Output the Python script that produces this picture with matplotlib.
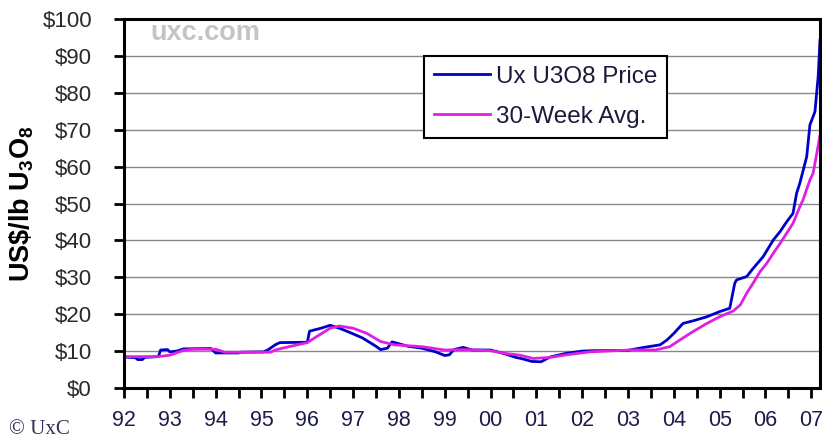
import matplotlib
matplotlib.use("Agg")
from matplotlib import pyplot as plt
from matplotlib.ticker import MultipleLocator
import numpy as np

# Ux U3O8 spot price (decimal year, US$/lb)
price_t = [1992.00, 1992.25, 1992.30, 1992.40, 1992.45, 1992.75, 1992.80, 1992.95,
           1993.00, 1993.15, 1993.30, 1993.90, 1994.00, 1994.50, 1994.55, 1995.05,
           1995.15, 1995.30, 1995.40, 1996.00, 1996.05, 1996.30, 1996.50, 1996.70,
           1996.90, 1997.20, 1997.50, 1997.60, 1997.75, 1997.85, 1998.00, 1998.20,
           1998.50, 1998.80, 1999.00, 1999.10, 1999.20, 1999.40, 1999.60, 2000.00,
           2000.30, 2000.55, 2000.70, 2000.90, 2001.10, 2001.30, 2001.65, 2002.00,
           2002.20, 2003.00, 2003.30, 2003.70, 2003.85, 2004.00, 2004.20, 2004.42,
           2004.72, 2005.00, 2005.22, 2005.33, 2005.37, 2005.59, 2005.73, 2005.95,
           2006.17, 2006.32, 2006.46, 2006.60, 2006.68, 2006.75, 2006.90, 2006.97,
           2007.08, 2007.15, 2007.19]
price_v = [8.4, 8.2, 7.7, 7.7, 8.3, 8.5, 10.3, 10.4,
           9.8, 10.0, 10.6, 10.7, 9.5, 9.5, 9.7, 9.8,
           10.4, 11.7, 12.3, 12.4, 15.4, 16.2, 17.0, 16.2,
           15.2, 13.6, 11.3, 10.4, 10.8, 12.5, 12.0, 11.3,
           10.8, 9.8, 8.8, 9.0, 10.4, 11.0, 10.3, 10.3,
           9.3, 8.3, 7.9, 7.2, 7.1, 8.4, 9.4, 10.0,
           10.1, 10.2, 10.9, 11.7, 13.0, 14.8, 17.5, 18.2,
           19.3, 20.7, 21.6, 28.4, 29.3, 30.2, 32.4, 35.6,
           40.1, 42.4, 45.0, 47.3, 52.8, 55.5, 62.7, 71.3,
           74.9, 84.4, 94.3]

# 30-week average
avg_t = [1992.00, 1992.75, 1993.00, 1993.30, 1993.50, 1994.00, 1994.20, 1995.20,
         1995.30, 1995.60, 1996.00, 1996.20, 1996.50, 1996.70, 1997.00, 1997.30,
         1997.60, 1997.90, 1998.50, 1999.00, 1999.50, 2000.00, 2000.30, 2000.64,
         2000.93, 2001.30, 2001.66, 2002.17, 2003.04, 2003.60, 2003.91, 2004.13,
         2004.42, 2004.72, 2005.00, 2005.30, 2005.45, 2005.59, 2005.73, 2005.88,
         2006.03, 2006.17, 2006.32, 2006.46, 2006.60, 2006.75, 2006.82, 2006.97,
         2007.04, 2007.12, 2007.19]
avg_v = [8.5, 8.5, 8.9, 10.2, 10.5, 10.5, 9.7, 9.7,
         10.3, 11.2, 12.3, 13.9, 16.2, 16.8, 16.2, 14.8,
         12.6, 11.7, 11.2, 10.3, 10.4, 10.1, 9.4, 8.9,
         8.0, 8.3, 9.0, 9.8, 10.3, 10.3, 11.2, 13.0,
         15.3, 17.5, 19.3, 20.9, 22.5, 25.7, 28.4, 31.5,
         33.8, 36.5, 39.2, 41.9, 44.6, 49.1, 51.0, 56.4,
         58.2, 63.6, 68.5]

years = list(range(1992, 2008))
year_labels = ["%02d" % (y % 100) for y in years]
y_ticks = list(range(0, 101, 10))
y_labels = ["$%d" % v for v in y_ticks]

plt.rcParams["font.family"] = ["Liberation Sans", "DejaVu Sans"]
plt.rcParams["mathtext.fontset"] = "custom"
plt.rcParams["mathtext.rm"] = "Liberation Sans:bold"
plt.rcParams["mathtext.default"] = "regular"

fig = plt.figure(figsize=(8.22, 4.41), dpi=100)
ax = fig.add_axes([124 / 822, 1 - 388 / 441, (820 - 124) / 822, (388 - 19) / 441])

ax.plot(price_t, price_v, color="#0000c8", lw=2.0, label="Ux U3O8 Price", zorder=3)
ax.plot(avg_t, avg_v, color="#e020e0", lw=2.0, label="30-Week Avg.", zorder=4)

ax.set_xlim(1992, 2007.19)
ax.set_ylim(0, 100)
ax.set_xticks(years)
ax.set_xticklabels(year_labels)
ax.xaxis.set_minor_locator(MultipleLocator(0.5))
ax.set_yticks(y_ticks)
ax.set_yticklabels(y_labels)

ax.yaxis.grid(True, color="#888888", lw=1.0)
ax.set_axisbelow(True)
for s in ax.spines.values():
    s.set_linewidth(2.2)
    s.set_color("black")
    s.set_zorder(5)

ax.tick_params(axis="x", which="both", direction="out", length=7, width=2,
               pad=9, labelsize=15.5, labelcolor="#1c1c4a")
ax.tick_params(axis="y", which="major", direction="out", length=7, width=2,
               pad=16, labelsize=16, labelcolor="#2a2a2a")

ax.set_ylabel(r"US\$/lb U$_3$O$_8$", fontsize=19.5, fontweight="bold")
ax.yaxis.set_label_coords(-0.127, 0.5)

fig.text(150 / 822, 1 - 33 / 441, "uxc.com", fontsize=19.5, fontweight="bold",
         color="#c4c4c4", va="center", ha="left")
fig.text(9 / 822, 1 - 430 / 441, "\u00a9 UxC", fontsize=15,
         family=["Liberation Serif", "DejaVu Serif"], color="#333355", va="center")

leg = ax.legend(loc="upper left", bbox_to_anchor=(424 / 822, 1 - 56 / 441),
                bbox_transform=fig.transFigure, borderaxespad=0, fontsize=17.5,
                frameon=True, fancybox=False, handlelength=2.3, handletextpad=0.25,
                borderpad=0.4, labelspacing=0.75)
leg.get_frame().set_edgecolor("black")
leg.get_frame().set_linewidth(1.5)
leg.get_frame().set_alpha(1)
for t in leg.get_texts():
    t.set_color("#1a1a3a")

fig.savefig("out.png", dpi=100)
